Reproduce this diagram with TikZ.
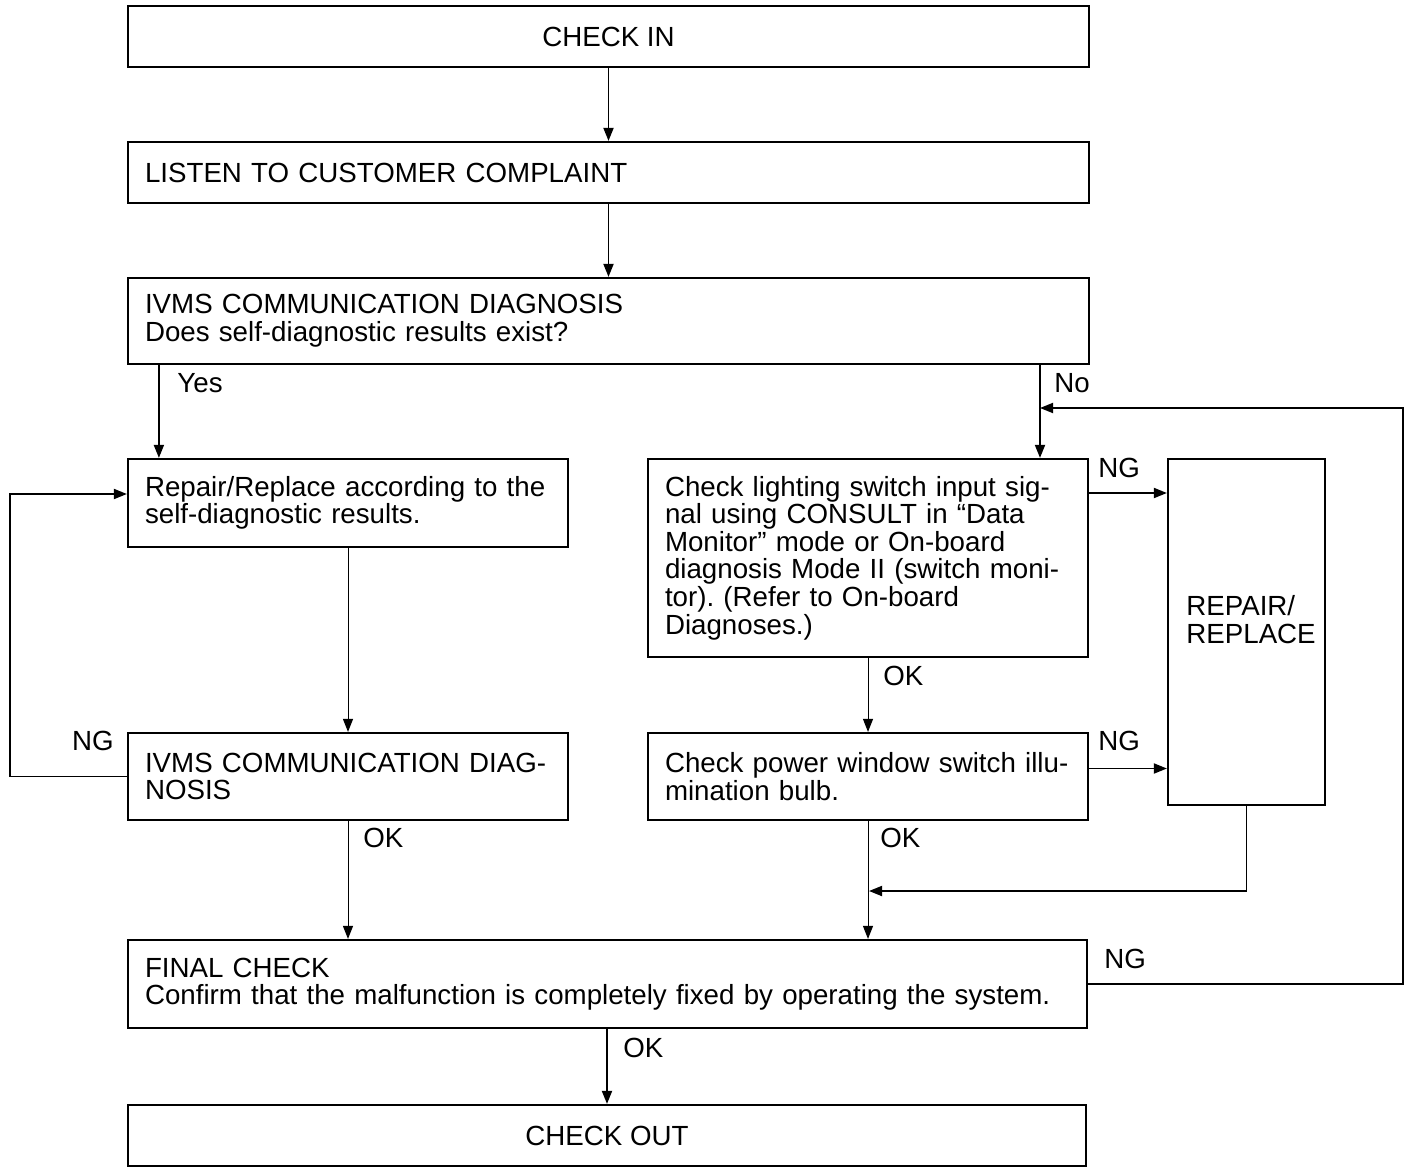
\documentclass[tikz,border=0pt]{standalone}
\usepackage{fontspec}
\setmainfont{Liberation Sans}
\usetikzlibrary{arrows.meta}
\frenchspacing
\begin{document}
\begin{tikzpicture}[x=0.5pt,y=-0.5pt,
  every node/.style={font=\fontsize{13.85}{13.8}\selectfont},
  box/.style={draw, line width=1.1pt, inner xsep=8.5pt, inner ysep=0pt, align=left},
  cbox/.style={draw, line width=1.1pt, inner sep=0pt, align=center},
  lbl/.style={inner sep=0pt},
  conn/.style={line width=0.9pt},
  arr/.style={conn, -{Triangle[length=6.5pt,width=5pt]}},
  thinarr/.style={line width=0.5pt, -{Triangle[length=6.5pt,width=5pt]}}]
\useasboundingbox (0,0) rectangle (1424,1172);
% boxes
\node[cbox, minimum width=480.5pt, minimum height=30.5pt] (checkin) at (608.5,36.5) {CHECK IN};
\node[box, minimum height=30.5pt, text width=463.5pt] (listen) at (608.5,172.5) {LISTEN TO CUSTOMER COMPLAINT};
\node[box, minimum height=43pt, text width=463.5pt] (ivms) at (608.5,321) {IVMS COMMUNICATION DIAGNOSIS\\Does self-diagnostic results exist?};
\node[box, minimum height=44pt, text width=203pt] (repl) at (348,503) {Repair/Replace according to the\\self-diagnostic results.};
\node[box, minimum height=43.5pt, text width=203pt] (ivms2) at (348,776.5) {IVMS COMMUNICATION DIAG-\\NOSIS};
\node[box, minimum height=99pt, text width=203pt] (light) at (868,558) {Check lighting switch input sig-\\nal using CONSULT in ``Data\\Monitor'' mode or On-board\\diagnosis Mode II (switch moni-\\tor). (Refer to On-board\\Diagnoses.)};
\node[box, minimum height=43.5pt, text width=203pt] (power) at (868,776.5) {Check power window switch illu-\\mination bulb.};
\node[draw, line width=1.1pt, minimum width=78.5pt, minimum height=173pt, inner sep=0pt] (rr) at (1246.5,632) {};
\node[lbl, anchor=west, align=left] (rrtext) at (1186,619.5) {REPAIR/\\REPLACE};
\node[box, minimum height=44pt, text width=462.5pt] (final) at (607.5,984) {FINAL CHECK\\Confirm that the malfunction is completely fixed by operating the system.};
\node[cbox, minimum width=479pt, minimum height=30.5pt] (checkout) at (607,1135.5) {CHECK OUT};
% helper coordinates
\coordinate (nox) at (1040,408);
\coordinate (loopc) at (1403,408);
\coordinate (merge) at (869,891);
\coordinate (lc) at (10,494);
% connectors
\draw[arr] (checkin) -- (listen);
\draw[arr] (listen) -- (ivms);
\draw[arr] ([xshift=16pt]ivms.south west) -- ([xshift=16pt]repl.north west);
\draw[arr] (ivms.south -| nox) -- (light.north -| nox);
\draw[arr] (final.east) -| (loopc) -- (nox);
\draw[arr] ([yshift=32.5pt]light.east) -- ([yshift=32.5pt]light.east -| rr.west);
\draw[arr] ([yshift=4pt]power.east) -- ([yshift=4pt]power.east -| rr.west);
\draw[arr] (rr.south) |- (merge);
\draw[thinarr] (light.south) -- (power.north);
\draw[thinarr] (power.south) -- (power.south |- final.north);
\draw[thinarr] (repl.south) -- (ivms2.north);
\draw[thinarr] (ivms2.south) -- (ivms2.south |- final.north);
\draw[arr] (ivms2.west) -| (lc) -- ([yshift=4.5pt]repl.west);
\draw[arr] (final.south -| checkout.north) -- (checkout.north);
% labels
\node[lbl, anchor=west] (lyes) at (177,383) {Yes};
\node[lbl, anchor=west] (lno) at (1054,383) {No};
\node[lbl, anchor=west] (lng1) at (1098,468) {NG};
\node[lbl, anchor=west] (lng2) at (1098,741) {NG};
\node[lbl, anchor=west] (lng3) at (1104,959) {NG};
\node[lbl, anchor=east] (lng4) at (114,741) {NG};
\node[lbl, anchor=west] (lok1) at (883,676) {OK};
\node[lbl, anchor=west] (lok2) at (880,838) {OK};
\node[lbl, anchor=west] (lok3) at (363,838) {OK};
\node[lbl, anchor=west] (lok4) at (623,1048) {OK};
\end{tikzpicture}
\end{document}
